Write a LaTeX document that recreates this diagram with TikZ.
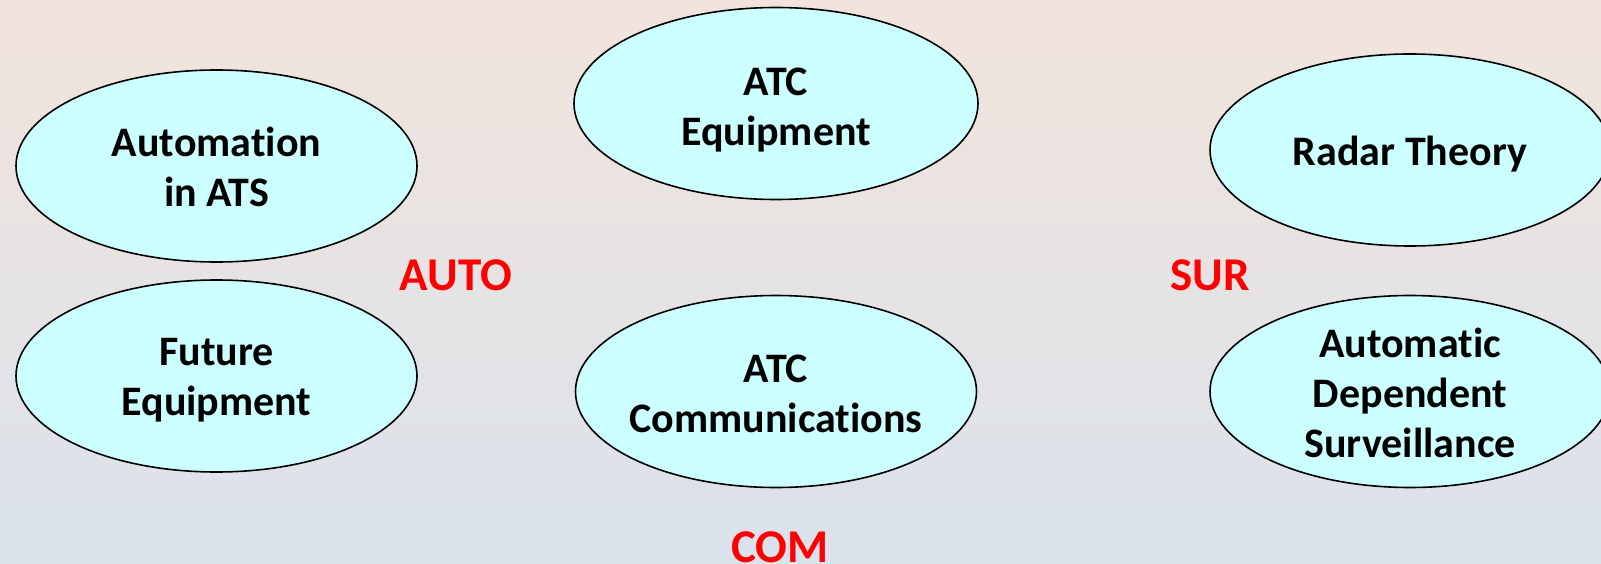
\documentclass[tikz,border=0pt]{standalone}
\usepackage{fontspec}
\setmainfont{Carlito}[Ligatures={NoCommon}]
\usetikzlibrary{shapes.geometric}
\definecolor{bgtop}{RGB}{242,228,220}
\definecolor{bgbot}{RGB}{218,226,236}
\definecolor{ellfill}{RGB}{204,255,255}
\definecolor{lblred}{RGB}{255,0,0}
\tikzset{
  topic/.style={ellipse, draw=black, line width=1.6pt, fill=ellfill,
    minimum width=401pt, minimum height=192pt, inner sep=0pt},
  topictext/.style={inner sep=0pt, align=center,
    font=\fontsize{42}{50}\selectfont\bfseries, text=black},
  group/.style={inner sep=0pt, font=\fontsize{47}{50}\selectfont\bfseries, text=lblred}
}
\begin{document}
\begin{tikzpicture}[x=1pt,y=-1pt]
\shade[top color=bgtop, bottom color=bgbot] (0,0) rectangle (1601,564);
\useasboundingbox (0,0) rectangle (1601,564);
\node[topic] (auto1) at (216.5,166) {};
\node[topic] (auto2) at (216.5,376) {};
\node[topic, minimum width=404pt] (com1) at (776,103.5) {};
\node[topic] (com2) at (776,391.5) {};
\node[topic, minimum width=400pt] (sur1) at (1410,150) {};
\node[topic, minimum width=400pt] (sur2) at (1410,391.5) {};
\node[topictext] (auto1t) at ([yshift=-1pt]auto1.center) {Automation\\in ATS};
\node[topictext] (auto2t) at ([yshift=-4pt]auto2.center) {Future\\Equipment};
\node[topictext] (com1t) at ([yshift=-7pt]com1.center) {ATC\\Equipment};
\node[topictext] (com2t) at ([yshift=-2pt]com2.center) {ATC\\Communications};
\node[topictext] (sur1t) at ([yshift=-4pt]sur1.center) {Radar Theory};
\node[topictext] (sur2t) at ([yshift=-1pt]sur2.center) {Automatic\\Dependent\\Surveillance};
\node[group] (lauto) at (456,275) {AUTO};
\node[group] (lsur) at (1210,275) {SUR};
\node[group] (lcom) at (780,547) {COM};
\end{tikzpicture}
\end{document}
